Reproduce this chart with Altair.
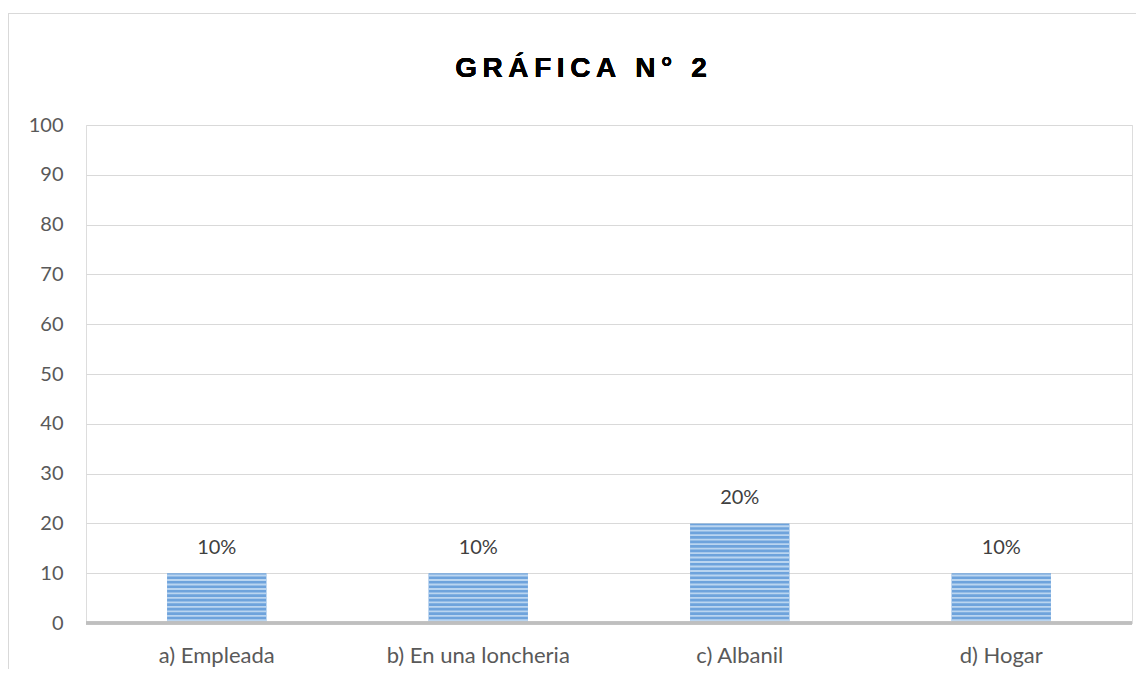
import altair as alt
import pandas as pd

categories = ["a) Empleada", "b) En una loncheria", "c) Albanil", "d) Hogar"]
values = [10, 10, 20, 10]
value_labels = ["10%", "10%", "20%", "10%"]
y_ticks = [0, 10, 20, 30, 40, 50, 60, 70, 80, 90, 100]
title_text = "GRÁFICA N° 2"

df = pd.DataFrame({"cat": categories, "val": values, "lab": value_labels})

W, H = 1046, 498
FONT = "Lato"

# letter-spaced title using thin spaces
TS = "\u2009"
spaced_title = TS.join(list(title_text)).replace(TS + " " + TS, TS + "\u00a0" + TS)

xenc = alt.X(
    "cat:N",
    sort=categories,
    scale=alt.Scale(paddingInner=0.62, paddingOuter=0.31),
    axis=alt.Axis(
        title=None, labelAngle=0, labelFont=FONT, labelFontSize=22,
        labelColor="#595959", domain=False, ticks=False, labelPadding=22,
        labelLimit=400,
    ),
)
yenc = alt.Y(
    "val:Q",
    scale=alt.Scale(domain=[0, 100], nice=False),
    axis=alt.Axis(
        title=None, values=y_ticks, grid=True, gridColor="#d9d9d9",
        gridWidth=1, domain=False, ticks=False, labelPadding=23,
        labelFont=FONT, labelFontSize=20, labelColor="#595959",
    ),
)

base = alt.Chart(df)

bars = base.mark_bar(color="#6ea3dc").encode(x=xenc, y=yenc)

stripes = (
    base.transform_calculate(seq="sequence(0.35, datum.val, 0.9)")
    .transform_flatten(["seq"])
    .transform_calculate(seq2="datum.seq + 0.38")
    .mark_bar(color="#c2daf2", opacity=0.9)
    .encode(
        x=alt.X("cat:N", sort=categories),
        y=alt.Y("seq:Q"),
        y2="seq2:Q",
    )
)

labels = base.mark_text(
    dy=-25, baseline="middle", font=FONT, fontSize=20, color="#404040"
).encode(x=alt.X("cat:N", sort=categories), y="val:Q", text="lab:N")

baseline = base.mark_rule(color="#bfbfbf", strokeWidth=3).encode(y=alt.datum(0))

border_left = base.mark_rule(color="#d9d9d9", strokeWidth=1).encode(
    x=alt.value(-77.5), y=alt.value(-111.5), y2=alt.value(H + 60)
)
border_top = base.mark_rule(color="#d9d9d9", strokeWidth=1).encode(
    x=alt.value(-77.5), x2=alt.value(W + 60), y=alt.value(-111.5)
)

title = base.mark_text(
    font="Liberation Sans", fontSize=28, fontWeight="bold", color="#000000",
    baseline="alphabetic", align="center",
).encode(x=alt.value(495), y=alt.value(-48), text=alt.value(spaced_title))

chart = (
    alt.layer(border_left, border_top, bars, stripes, baseline, labels, title)
    .properties(
        width=W, height=H,
        padding={"left": 78, "top": 117, "right": 4, "bottom": 46},
        autosize=alt.AutoSizeParams(type="none"),
    )
    .configure_view(stroke=None)
    .configure(background="white")
)

chart.save("out.html", embed_options={"renderer": "svg", "actions": False})
